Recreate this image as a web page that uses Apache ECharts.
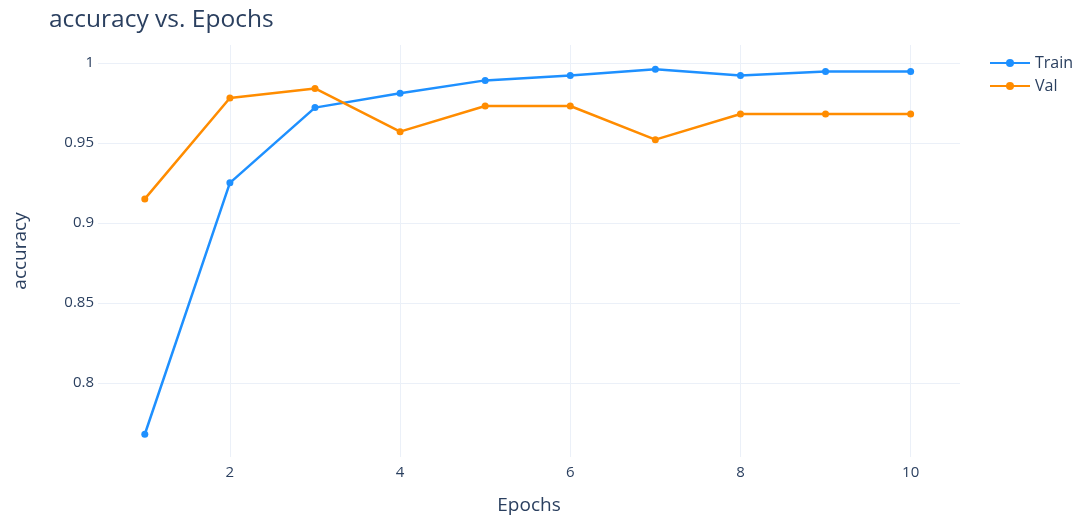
<!DOCTYPE html>
<html><head><meta charset="utf-8">
<script src="https://cdn.jsdelivr.net/npm/echarts@6/dist/echarts.min.js"></script>
<style>html,body{margin:0;padding:0;background:#fff}#c{width:1085px;height:520px}</style>
</head><body><div id="c"></div>
<script>
const epochs = [1,2,3,4,5,6,7,8,9,10];
const trainAcc = [0.768,0.925,0.972,0.981,0.989,0.992,0.996,0.992,0.9945,0.9945];
const valAcc = [0.915,0.978,0.984,0.957,0.973,0.973,0.952,0.968,0.968,0.968];
const xTicks = [2,4,6,8,10];
const yTicks = [0.8,0.85,0.9,0.95,1];

const font = '"Open Sans", "Noto Sans", sans-serif';
const txt = '#2a3f5f';
const chart = echarts.init(document.getElementById('c'));
chart.setOption({
  backgroundColor:'#fff',
  animation:false,
  title:{text:'accuracy vs. Epochs',left:44,top:3,textStyle:{fontFamily:font,fontSize:24.5,fontWeight:'normal',color:txt}},
  legend:{left:984,top:50,orient:'vertical',itemGap:7,itemWidth:40,itemHeight:10,
    textStyle:{fontFamily:font,fontSize:16,color:txt},data:['Train','Val']},
  grid:{left:98,right:125,top:45,bottom:57},
  xAxis:{type:'value',min:0.45,max:10.58,name:'Epochs',nameLocation:'middle',nameGap:39,
    nameTextStyle:{fontFamily:font,fontSize:19,color:txt},
    axisLine:{show:false},axisTick:{show:false,customValues:xTicks},
    axisLabel:{customValues:xTicks,fontFamily:font,fontSize:15,color:txt,margin:8},
    splitLine:{show:true,lineStyle:{color:'#ebf0f8',width:1}}},
  yAxis:{type:'value',min:0.7538,max:1.0111,name:'accuracy',nameLocation:'middle',nameGap:68,
    nameTextStyle:{fontFamily:font,fontSize:19,color:txt},
    axisLine:{show:false},axisTick:{show:false,customValues:yTicks},
    axisLabel:{customValues:yTicks,fontFamily:font,fontSize:15,color:txt,margin:4,
      formatter:v=>String(+v.toFixed(2))},
    splitLine:{show:true,lineStyle:{color:'#ebf0f8',width:1}}},
  series:[
    {name:'Train',type:'line',data:epochs.map((e,i)=>[e,trainAcc[i]]),color:'#1e90ff',
     symbol:'circle',symbolSize:7,lineStyle:{width:2.5}},
    {name:'Val',type:'line',data:epochs.map((e,i)=>[e,valAcc[i]]),color:'#ff8c00',
     symbol:'circle',symbolSize:7,lineStyle:{width:2.5}}
  ]
});
</script></body></html>
